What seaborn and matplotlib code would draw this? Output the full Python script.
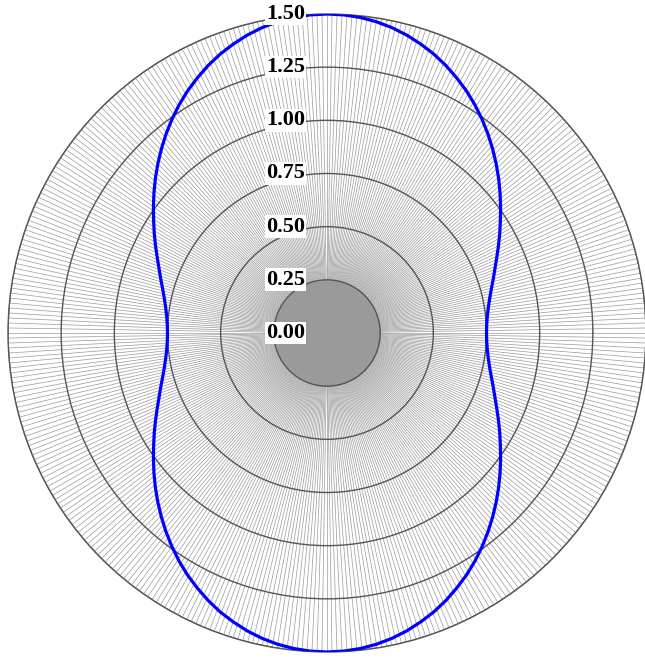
import numpy as np
import pandas as pd
import matplotlib
matplotlib.use("Agg")
import matplotlib.pyplot as plt
import seaborn as sns

# Polar response: angle (degrees, 3-degree steps) and magnitude
angle_deg = list(range(0, 361, 3))
magnitude = [
    0.750, 0.752, 0.758, 0.768, 0.782, 0.800, 0.822, 0.846, 0.874, 0.905, 0.938,
    0.972, 1.009, 1.047, 1.086, 1.125, 1.164, 1.203, 1.241, 1.278, 1.313,
    1.345, 1.376, 1.404, 1.428, 1.450, 1.468, 1.482, 1.492, 1.498,
    1.500,
    1.498, 1.492, 1.482, 1.468, 1.450, 1.428, 1.404, 1.376, 1.345, 1.313,
    1.278, 1.241, 1.203, 1.164, 1.125, 1.086, 1.047, 1.009, 0.972, 0.938,
    0.905, 0.874, 0.846, 0.822, 0.800, 0.782, 0.768, 0.758, 0.752,
    0.750,
    0.752, 0.758, 0.768, 0.782, 0.800, 0.822, 0.846, 0.874, 0.905, 0.938,
    0.972, 1.009, 1.047, 1.086, 1.125, 1.164, 1.203, 1.241, 1.278, 1.313,
    1.345, 1.376, 1.404, 1.428, 1.450, 1.468, 1.482, 1.492, 1.498,
    1.500,
    1.498, 1.492, 1.482, 1.468, 1.450, 1.428, 1.404, 1.376, 1.345, 1.313,
    1.278, 1.241, 1.203, 1.164, 1.125, 1.086, 1.047, 1.009, 0.972, 0.938,
    0.905, 0.874, 0.846, 0.822, 0.800, 0.782, 0.768, 0.758, 0.752,
    0.750,
]

radial_ticks = [0.25, 0.50, 0.75, 1.00, 1.25, 1.50]
radial_labels = ["0.00", "0.25", "0.50", "0.75", "1.00", "1.25", "1.50"]
radial_label_pos = [0.00, 0.25, 0.50, 0.75, 1.00, 1.25, 1.50]

df = pd.DataFrame({"theta": np.deg2rad(angle_deg), "r": magnitude})

sns.set_theme(style="white")

fig = plt.figure(figsize=(6.45, 6.59), dpi=100)
ax = fig.add_axes([8 / 645, 7 / 659, 638 / 645, 638 / 659], projection="polar")
ax.set_facecolor("white")
ax.set_ylim(0, 1.5)

# dense spokes every 0.9 degrees
spokes = np.arange(0, 360, 0.9)
ax.set_thetagrids(spokes, labels=[""] * len(spokes))
ax.set_rgrids(radial_ticks, labels=[""] * len(radial_ticks))
ax.xaxis.grid(True, color="#9a9a9a", linewidth=0.5)
ax.yaxis.grid(True, color="#555555", linewidth=1.0)
ax.set_axisbelow(False)
ax.spines["polar"].set_color("#555555")
ax.spines["polar"].set_linewidth(1.0)
ax.tick_params(axis="both", length=0, pad=0)

# shaded core inside the first ring
core = np.linspace(0, 2 * np.pi, 361)
ax.fill_between(core, 0, 0.25, color="#9c9c9c", zorder=1, linewidth=0)

sns.lineplot(data=df, x="theta", y="r", sort=False, estimator=None,
             color="#0000ff", linewidth=2.3, ax=ax, zorder=5)
ax.set_xlabel("")
ax.set_ylabel("")

for lab, rv in zip(radial_labels, radial_label_pos):
    ax.annotate(lab, xy=(np.pi / 2, rv), xytext=(-22, 0), textcoords="offset pixels",
                ha="right", va="center", fontsize=16, fontweight="bold",
                family="Liberation Serif", color="black", zorder=6,
                bbox=dict(boxstyle="square,pad=0.06", fc="white", ec="none"),
                annotation_clip=False)

fig.savefig("out.png", dpi=100, facecolor="white")
